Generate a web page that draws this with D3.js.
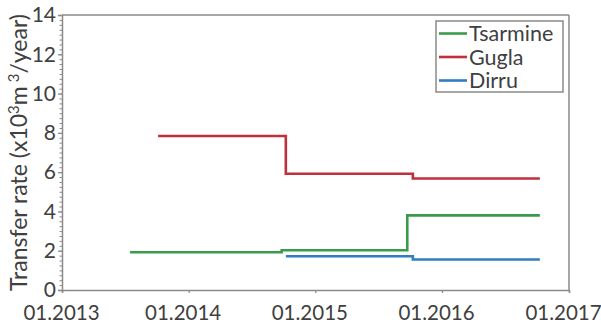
<!DOCTYPE html>
<html>
<head>
<meta charset="utf-8">
<script src="https://cdn.jsdelivr.net/npm/d3@7"></script>
<style>
  html, body { margin: 0; padding: 0; background: #fff; }
  svg { display: block; }
  text { font-family: Lato, "Open Sans", sans-serif; fill: #404040; }
</style>
</head>
<body>
<svg id="chart" width="601" height="332"></svg>
<script>
// Step series: each value holds from its start date until the next start date.
const seriesNames = ["Tsarmine", "Gugla", "Dirru"];
const seriesColors = ["#3a9b4a", "#c0303c", "#2f7dc2"];
const tsarmineStarts = ["2013-07-16", "2014-09-26", "2015-09-23"];
const tsarmineValues = [1.92, 2.02, 3.8];
const guglaStarts = ["2013-10-05", "2014-10-08", "2015-10-09"];
const guglaValues = [7.84, 5.92, 5.68];
const dirruStarts = ["2014-10-08", "2015-10-09"];
const dirruValues = [1.72, 1.55];
const seriesEnd = "2016-10-09";
const xTickDates = ["2013-01-01", "2014-01-01", "2015-01-01", "2016-01-01", "2017-01-01"];
const xTickLabels = ["01.2013", "01.2014", "01.2015", "01.2016", "01.2017"];
const yTicks = [0, 2, 4, 6, 8, 10, 12, 14];

const parse = d3.timeParse("%Y-%m-%d");
const W = 601, H = 332;
const margin = { top: 15, right: 32, bottom: 42, left: 62 };
const iw = W - margin.left - margin.right;
const ih = H - margin.top - margin.bottom;
const fontFamily = "Lato, 'Open Sans', sans-serif";

const svg = d3.select("#chart");
const g = svg.append("g").attr("transform", `translate(${margin.left},${margin.top})`);

const x = d3.scaleTime()
  .domain([parse(xTickDates[0]), parse(xTickDates[xTickDates.length - 1])])
  .range([0, iw]);
const y = d3.scaleLinear().domain([0, 14]).range([ih, 0]);

const axisColor = "#8a8a8a";

// Frame (top and right edges)
g.append("line").attr("x1", 0).attr("x2", iw).attr("y1", 0).attr("y2", 0)
  .attr("stroke", axisColor).attr("stroke-width", 1.5);
g.append("line").attr("x1", iw).attr("x2", iw).attr("y1", 0).attr("y2", ih)
  .attr("stroke", axisColor).attr("stroke-width", 1.5);

// Minor y ticks every 0.25
const yMinor = d3.axisLeft(y).tickValues(d3.range(0, 14.001, 0.25)).tickSize(2.5).tickFormat("");
g.append("g").call(yMinor)
  .call(s => s.select(".domain").remove())
  .call(s => s.selectAll("line").attr("stroke", axisColor).attr("stroke-width", 1));

// Major y axis
const yAxis = d3.axisLeft(y).tickValues(yTicks).tickSize(4).tickPadding(2).tickFormat(d3.format("d"));
g.append("g").call(yAxis)
  .call(s => s.select(".domain").attr("stroke", axisColor).attr("stroke-width", 1.5))
  .call(s => s.selectAll("line").attr("stroke", axisColor).attr("stroke-width", 1.2))
  .call(s => s.selectAll("text").attr("font-size", 21).attr("fill", "#404040")
    .attr("font-family", fontFamily));

// X axis
const xAxis = d3.axisBottom(x)
  .tickValues(xTickDates.map(parse))
  .tickSize(3).tickPadding(12)
  .tickFormat((d, i) => xTickLabels[i]);
g.append("g").attr("transform", `translate(0,${ih})`).call(xAxis)
  .call(s => s.select(".domain").attr("stroke", axisColor).attr("stroke-width", 1.5))
  .call(s => s.selectAll("line").attr("stroke", axisColor).attr("stroke-width", 1.2))
  .call(s => s.selectAll("text").attr("font-size", 20.5).attr("fill", "#404040")
    .attr("dx", (d, i) => i === 0 ? -1 : -6)
    .attr("font-family", fontFamily));

// Y axis title
const title = svg.append("text")
  .attr("transform", `translate(27,${margin.top + ih / 2}) rotate(-90)`)
  .attr("text-anchor", "middle")
  .attr("font-size", 23);
title.append("tspan").text("Transfer rate (x10");
title.append("tspan").attr("dy", -8).attr("font-size", 15).text("3");
title.append("tspan").attr("dy", 8).text("m");
title.append("tspan").attr("dy", -8).attr("dx", 4).attr("font-size", 15).text("3");
title.append("tspan").attr("dy", 8).text("/year)");

// Build step lines
function stepPoints(starts, values) {
  const pts = starts.map((s, i) => ({ date: parse(s), value: values[i] }));
  pts.push({ date: parse(seriesEnd), value: values[values.length - 1] });
  return pts;
}
const series = [
  stepPoints(tsarmineStarts, tsarmineValues),
  stepPoints(guglaStarts, guglaValues),
  stepPoints(dirruStarts, dirruValues)
];
const line = d3.line()
  .x(d => x(d.date))
  .y(d => y(d.value))
  .curve(d3.curveStepAfter);

series.forEach((pts, i) => {
  g.append("path")
    .datum(pts)
    .attr("fill", "none")
    .attr("stroke", seriesColors[i])
    .attr("stroke-width", 2.6)
    .attr("d", line);
});

// Legend
const legend = svg.append("g").attr("transform", "translate(436,21)");
legend.append("rect").attr("x", 0).attr("y", 0).attr("width", 127).attr("height", 71)
  .attr("fill", "#fff").attr("stroke", axisColor).attr("stroke-width", 1.5);
seriesNames.forEach((name, i) => {
  const cy = 12.5 + i * 23.5;
  legend.append("line").attr("x1", 3).attr("x2", 31).attr("y1", cy).attr("y2", cy)
    .attr("stroke", seriesColors[i]).attr("stroke-width", 2.6);
  legend.append("text").attr("x", 33).attr("y", cy + 7.5).attr("font-size", 21.5).text(name);
});
</script>
</body>
</html>
